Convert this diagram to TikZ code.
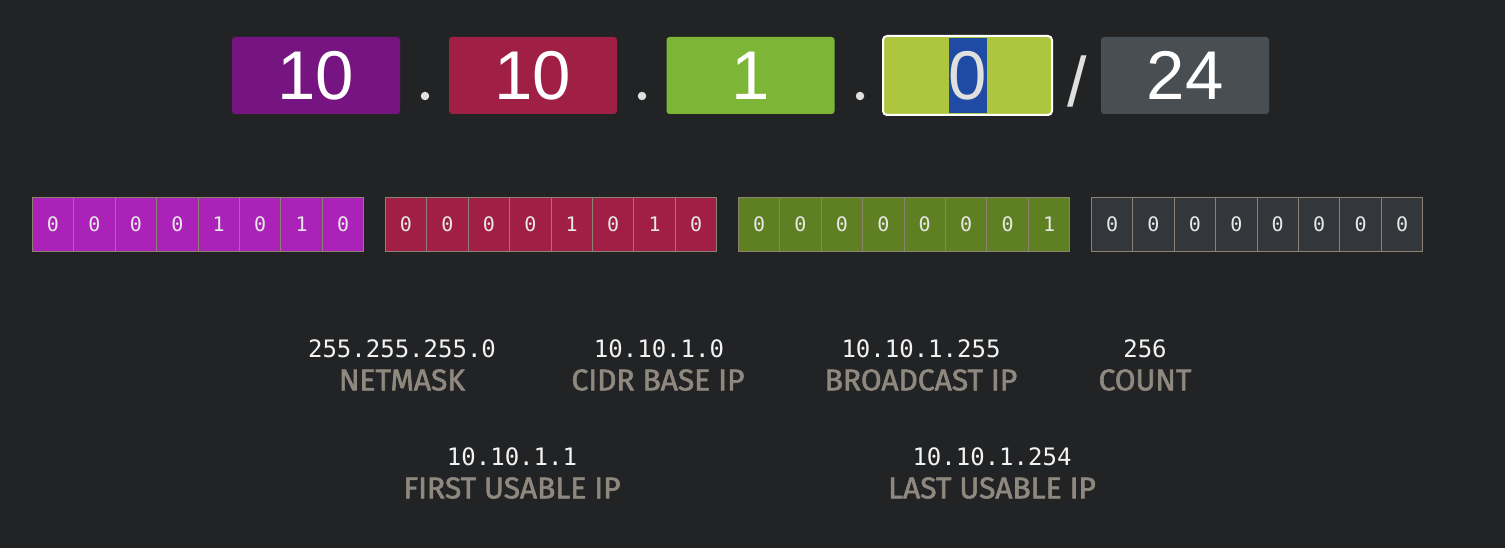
\documentclass[tikz,border=0pt]{standalone}
\usepackage{fontspec}
\setmainfont{Liberation Sans}
\newfontfamily\bigf{Liberation Sans}
\newfontfamily\monof{DejaVu Sans Mono}
\newfontfamily\labf{Fira Sans}[FakeBold=2]
\definecolor{bg}{HTML}{222325}
\definecolor{oc1}{HTML}{761581}
\definecolor{oc2}{HTML}{9F1F45}
\definecolor{oc3}{HTML}{7DB637}
\definecolor{oc4}{HTML}{AEC53E}
\definecolor{oc5}{HTML}{494E52}
\definecolor{hlblue}{HTML}{1F4BA5}
\definecolor{dotc}{HTML}{E0E0DE}
\definecolor{bc1}{HTML}{AB22B8}
\definecolor{bc2}{HTML}{A11F45}
\definecolor{bc3}{HTML}{5E7F22}
\definecolor{bc4}{HTML}{33363A}
\definecolor{bitborder}{HTML}{8A8371}
\definecolor{bittext}{HTML}{E8E8E8}
\definecolor{valtext}{HTML}{F2F2F2}
\definecolor{labtext}{HTML}{8E887F}
\tikzset{
  octet/.style={rectangle, rounded corners=3pt, inner sep=0pt, minimum width=168pt, minimum height=77pt, text=white, font=\bigf\fontsize{69}{69}\selectfont},
  sepdot/.style={circle, fill=dotc, inner sep=0pt, minimum size=8.5pt},
  slashc/.style={inner sep=0pt, text=dotc, font=\bigf\fontsize{70}{70}\selectfont},
  bitcell/.style={rectangle, draw=bitborder, line width=1pt, minimum width=41.43pt, minimum height=54pt, inner sep=0pt, text=bittext, font=\monof\fontsize{20}{20}\selectfont},
  valnode/.style={inner sep=0pt, text=valtext, font=\monof\fontsize{24}{24}\selectfont},
  labnode/.style={inner sep=0pt, text=labtext, font=\labf\fontsize{30}{30}\selectfont}
}
\begin{document}
\begin{tikzpicture}[x=1pt,y=-1pt]
\fill[bg] (0,0) rectangle (1505,548);
\useasboundingbox (0,0) rectangle (1505,548);
% octets
\node[octet, fill=oc1] (o1) at (316,75.5) {10};
\node[sepdot] (d1) at (425,96) {};
\node[octet, fill=oc2] (o2) at (533,75.5) {10};
\node[sepdot] (d2) at (642,96) {};
\node[octet, fill=oc3] (o3) at (750.5,75.5) {1};
\node[sepdot] (d3) at (860,96) {};
\node[rectangle, rounded corners=4pt, draw=white, line width=2pt, fill=oc4, minimum width=169pt, minimum height=79pt, inner sep=0pt] (o4) at (967.5,75.5) {};
\node[rectangle, fill=hlblue, minimum width=36pt, minimum height=74.4pt, inner sep=0pt, text=dotc, font=\bigf\fontsize{69}{69}\selectfont] (o4t) at (968,75.5) {0};
\node[slashc] (sl) at (1077,81) {/};
\node[octet, fill=oc5] (o5) at (1185,75.5) {24};
% bits
\foreach \g/\col/\bits [count=\gi from 0] in {1/bc1/{0,0,0,0,1,0,1,0},2/bc2/{0,0,0,0,1,0,1,0},3/bc3/{0,0,0,0,0,0,0,1},4/bc4/{0,0,0,0,0,0,0,0}}{
  \foreach \b [count=\i from 0] in \bits {
    \node[bitcell, fill=\col] (b\g-\i) at ({32.3+353*\gi+41.43*\i+20.715},224.3) {\b};
  }
}
% labels
\node[valnode] (v1) at (402,349) {255.255.255.0};
\node[labnode] (l1) at (402,380) {NETMASK};
\node[valnode] (v2) at (659,349) {10.10.1.0};
\node[labnode] (l2) at (658,380) {CIDR BASE IP};
\node[valnode] (v3) at (921,349) {10.10.1.255};
\node[labnode] (l3) at (921,380) {BROADCAST IP};
\node[valnode] (v4) at (1145,349) {256};
\node[labnode] (l4) at (1145,380) {COUNT};
\node[valnode] (v5) at (512,457) {10.10.1.1};
\node[labnode] (l5) at (512,488) {FIRST USABLE IP};
\node[valnode] (v6) at (992,457) {10.10.1.254};
\node[labnode] (l6) at (992,488) {LAST USABLE IP};
\end{tikzpicture}
\end{document}
